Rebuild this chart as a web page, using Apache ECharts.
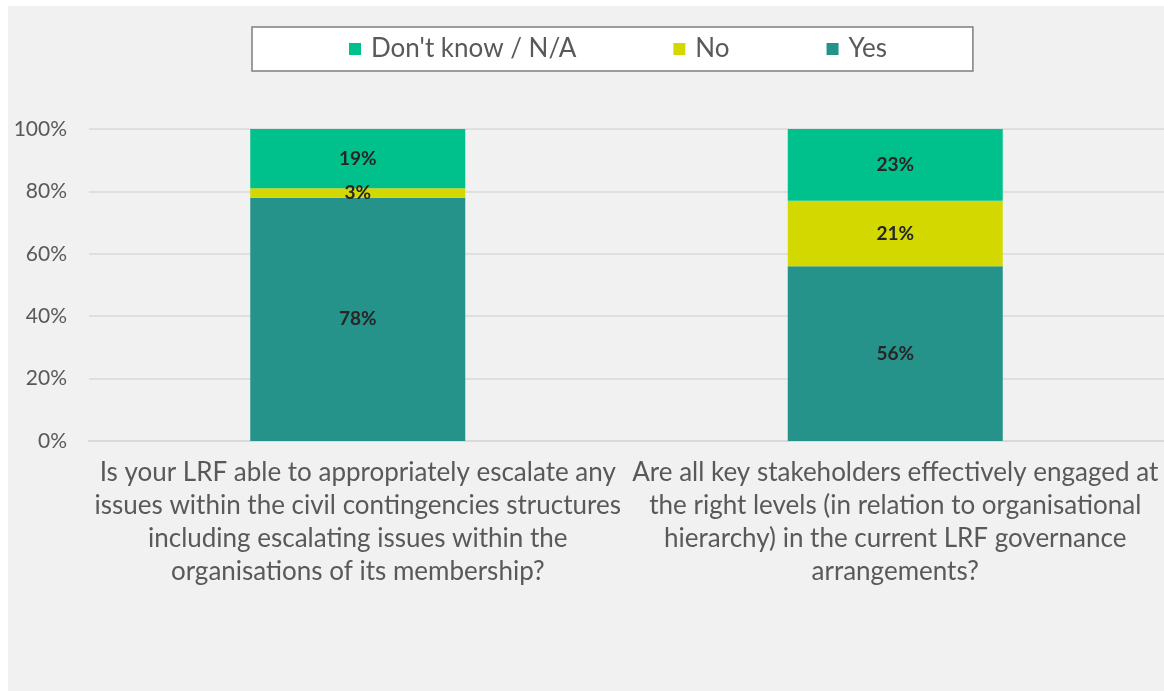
<!DOCTYPE html>
<html>
<head>
<meta charset="utf-8">
<script src="https://cdn.jsdelivr.net/npm/echarts@6/dist/echarts.min.js"></script>
<style>
  html, body { margin: 0; padding: 0; background: #ffffff; }
  #chart { width: 1164px; height: 691px; }
</style>
</head>
<body>
<div id="chart"></div>
<script>
// Survey questions (category axis)
const categories = [
  'Is your LRF able to appropriately escalate any\nissues within the civil contingencies structures\nincluding escalating issues within the\norganisations of its membership?',
  'Are all key stakeholders effectively engaged at\nthe right levels (in relation to organisational\nhierarchy) in the current LRF governance\narrangements?'
];

// Response shares, percent
const yesValues = [78, 56];
const noValues = [3, 21];
const dontKnowValues = [19, 23];

// Series names as shown in the legend
const seriesNames = ["Don't know / N/A", 'No', 'Yes'];

const colors = {
  "Don't know / N/A": '#00c18c',
  'No': '#d3d900',
  'Yes': '#25938a'
};

const FONT = 'Lato, "Liberation Sans", sans-serif';

const chart = echarts.init(document.getElementById('chart'), null, { renderer: 'canvas' });

function stackSeries(name, values) {
  return {
    name: name,
    type: 'bar',
    stack: 'total',
    barWidth: '40%',
    data: values,
    itemStyle: { color: colors[name] },
    label: {
      show: true,
      position: 'inside',
      formatter: '{c}%',
      color: '#262626',
      fontFamily: FONT,
      fontWeight: 'bold',
      fontSize: 19
    },
    emphasis: { disabled: true }
  };
}

chart.setOption({
  backgroundColor: '#f1f1f1',
  animation: false,
  graphic: [
    { type: 'rect', left: 0, top: 0, shape: { width: 1164, height: 6 }, style: { fill: '#ffffff' }, z: -1 },
    { type: 'rect', left: 0, top: 0, shape: { width: 8, height: 691 }, style: { fill: '#ffffff' }, z: -1 }
  ],
  legend: {
    data: seriesNames,
    left: 252,
    top: 27,
    icon: 'rect',
    itemWidth: 12,
    itemHeight: 12,
    itemGap: 97,
    padding: [9, 86, 9, 97],
    backgroundColor: '#ffffff',
    borderColor: '#7f7f7f',
    borderWidth: 1.5,
    selectedMode: false,
    textStyle: { fontFamily: FONT, fontSize: 26, color: '#595959', padding: [0, 0, 0, 5] }
  },
  grid: {
    left: 89,
    top: 129,
    width: 1080,
    height: 312,
    containLabel: false
  },
  xAxis: {
    type: 'category',
    data: categories,
    axisTick: { show: false },
    axisLine: { show: true, lineStyle: { color: '#d9d9d9', width: 2 } },
    axisLabel: {
      interval: 0,
      margin: 15,
      fontFamily: FONT,
      fontSize: 26,
      lineHeight: 33,
      color: '#595959',
      align: 'center'
    }
  },
  yAxis: {
    type: 'value',
    min: 0,
    max: 100,
    interval: 20,
    axisLine: { show: false },
    axisTick: { show: false },
    splitLine: { lineStyle: { color: '#d9d9d9', width: 1.5 } },
    axisLabel: {
      formatter: '{value}%',
      margin: 22,
      fontFamily: FONT,
      fontSize: 21,
      color: '#595959'
    }
  },
  series: [
    stackSeries('Yes', yesValues),
    stackSeries('No', noValues),
    stackSeries("Don't know / N/A", dontKnowValues)
  ]
});
</script>
</body>
</html>
